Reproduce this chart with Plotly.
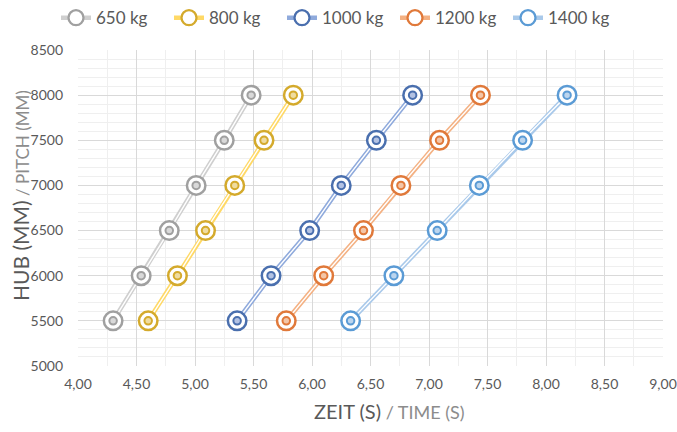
import plotly.graph_objects as go

series_names = ["650 kg", "800 kg", "1000 kg", "1200 kg", "1400 kg"]
pitch_mm = [5500, 6000, 6500, 7000, 7500, 8000]
time_650 = [4.30, 4.54, 4.78, 5.01, 5.25, 5.48]
time_800 = [4.60, 4.85, 5.09, 5.34, 5.59, 5.84]
time_1000 = [5.36, 5.65, 5.98, 6.25, 6.55, 6.86]
time_1200 = [5.78, 6.10, 6.44, 6.76, 7.09, 7.44]
time_1400 = [6.33, 6.70, 7.07, 7.43, 7.80, 8.18]
times = [time_650, time_800, time_1000, time_1200, time_1400]

marker_colors = ["#a0a0a0", "#d4aa2c", "#4a6fae", "#e0793a", "#5b9bd5"]
line_colors = ["#cfcfcf", "#ffd966", "#8faadc", "#f4b183", "#a9c9ea"]
fill_colors = ["#d9d9d9", "#efdca0", "#b3c2e3", "#f3c6a8", "#bcd5ee"]

FONT = "Lato, Open Sans, sans-serif"

fig = go.Figure()
for name, t, mc, lc, fc in zip(series_names, times, marker_colors, line_colors, fill_colors):
    fig.add_trace(go.Scatter(
        x=t, y=pitch_mm, name=name, mode="lines+markers",
        line=dict(color=lc, width=4.5),
        marker=dict(symbol="circle", size=15, color="white", line=dict(color=mc, width=2.3)),
    ))
    fig.add_trace(go.Scatter(
        x=t, y=pitch_mm, mode="lines", showlegend=False, hoverinfo="skip",
        line=dict(color="white", width=1.4),
    ))
    fig.add_trace(go.Scatter(
        x=t, y=pitch_mm, mode="markers", showlegend=False, hoverinfo="skip",
        marker=dict(symbol="circle", size=18.5, color="white", line=dict(color=mc, width=2.5)),
    ))
    fig.add_trace(go.Scatter(
        x=t, y=pitch_mm, mode="markers", showlegend=False, hoverinfo="skip",
        marker=dict(symbol="circle", size=7.5, color=fc, line=dict(color=mc, width=2)),
    ))

fig.update_layout(
    width=677, height=432,
    margin=dict(l=78, r=14, t=50, b=66, autoexpand=False),
    paper_bgcolor="white", plot_bgcolor="white",
    font=dict(family=FONT, color="#595959", size=14),
    separators=",.",
    showlegend=True,
    legend=dict(orientation="h", x=0.5, xanchor="center", xref="container",
                y=0.958, yanchor="middle", yref="container",
                font=dict(size=17, color="#595959"), entrywidth=68),
    xaxis=dict(
        range=[4, 9], dtick=0.5, tick0=4, tickformat=".2f",
        showgrid=True, gridcolor="#d9d9d9", gridwidth=1.3,
        minor=dict(dtick=0.25, showgrid=True, gridcolor="#efefef", gridwidth=1),
        zeroline=False, showline=False, ticks="", automargin=False,
        ticklabelstandoff=8,
        tickfont=dict(size=14, color="#595959"),
    ),
    yaxis=dict(
        range=[5000, 8500], dtick=500, tick0=5000, tickformat="d",
        showgrid=True, gridcolor="#d9d9d9", gridwidth=1.3,
        minor=dict(dtick=100, showgrid=True, gridcolor="#efefef", gridwidth=1),
        zeroline=False, showline=False, ticks="", automargin=False,
        ticklabelstandoff=14,
        tickfont=dict(size=14, color="#595959"),
    ),
    annotations=[
        dict(text="<span style='font-size:20px;color:#595959'>ZEIT (S)</span>"
                  "<span style='font-size:18px;color:#8c8c8c'> / TIME (S)</span>",
             xref="paper", yref="paper", x=(389 - 78) / 585, y=-(411 - 366) / 316,
             xanchor="center", yanchor="middle", showarrow=False),
        dict(text="<span style='font-size:21px;color:#595959'>HUB (MM)</span>"
                  "<span style='font-size:17px;color:#8c8c8c'> / PITCH (MM)</span>",
             xref="paper", yref="paper", x=-(78 - 20) / 585, y=(366 - 196) / 316,
             xanchor="center", yanchor="middle", textangle=-90, showarrow=False),
    ],
)

fig.write_html("out.html", config={"displayModeBar": False},
               post_script="document.body.style.margin='0';")
